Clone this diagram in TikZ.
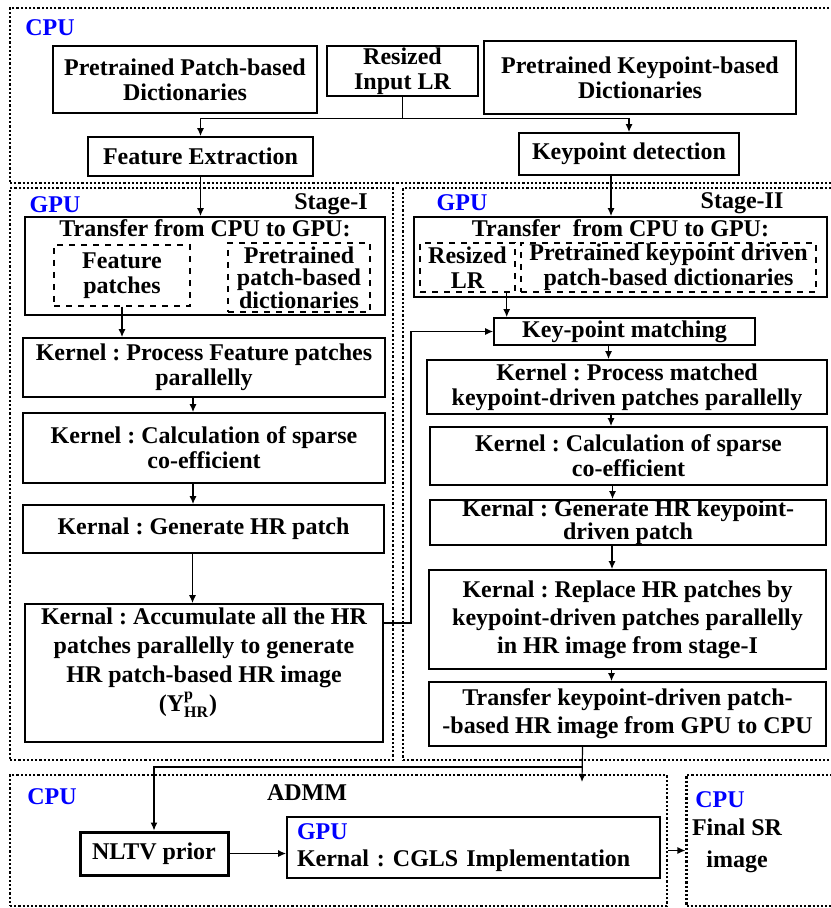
\documentclass[tikz,border=0pt]{standalone}
\usepackage{amsmath}
\usepackage{fontspec}
\setmainfont{Liberation Serif}
\usetikzlibrary{positioning, arrows.meta, calc}
\frenchspacing

\tikzset{
  blk/.style={draw, line width=0.9pt, align=center, inner sep=0pt},
  sub/.style={draw, dashed, line width=0.7pt, align=center, inner sep=0pt},
  region/.style={draw, densely dotted, line width=1.1pt},
  unit/.style={text=blue, inner sep=0pt},
  flow/.style={-{Latex[length=4pt, width=3.5pt]}, line width=0.6pt},
}

\begin{document}
\begin{tikzpicture}[x=0.5pt, y=-0.5pt, font=\fontsize{12}{12.5}\selectfont\bfseries]
  \useasboundingbox (0,0) rectangle (830,908);
% regions
  \node[region, minimum width=412pt, minimum height=87.5pt] (cpu) at (422,95.5) {};
  \node[region, minimum width=191.5pt, minimum height=286pt] (stI) at (201.5,474) {};
  \node[region, minimum width=216pt, minimum height=286pt] (stII) at (619,474) {};
  \node[region, minimum width=328.5pt, minimum height=65.5pt] (admm) at (338.5,840.5) {};
  \node[region, minimum width=74pt, minimum height=65.5pt] (final) at (760.5,840.5) {};
%
  \node[unit] (cpuA) at (50,28) {CPU};
  \node[unit] (gpuA) at (55,205) {GPU};
  \node[inner sep=0pt] (stAlab) at (331,204) {Stage-I};
  \node[unit] (gpuB) at (462,203) {GPU};
  \node[inner sep=0pt] (stBlab) at (742,203) {Stage-II};
  \node[unit] (cpuC) at (52,797) {CPU};
  \node[inner sep=0pt] (admmlab) at (307,793) {ADMM};
  \node[unit] (cpuD) at (720,800) {CPU};
  \node[inner sep=0pt, align=center, font=\fontsize{12}{16}\selectfont\bfseries] (srlab) at (737,846) {Final SR\\image};
% CPU: inputs
  \node[blk, minimum width=132pt, minimum height=33.5pt] (pdict) at (185,79.5) {Pretrained Patch-based\\Dictionaries};
  \node[blk, minimum width=75.5pt, minimum height=25pt] (resized) at (402.5,71) {Resized\\Input LR};
  \node[blk, minimum width=156pt, minimum height=36.5pt] (kdict) at (640,77.5) {Pretrained Keypoint-based\\Dictionaries};
  \node[blk, minimum width=112.5pt, minimum height=19.5pt] (fe) at (200.5,156.5) {Feature Extraction};
  \node[blk, minimum width=110pt, minimum height=21pt] (kd) at (629,154) {Keypoint detection};
% Stage-I
  \node[blk, minimum width=180pt, minimum height=49pt] (tI) at (205,266) {};
  \node[below=1.5pt of tI.north, inner sep=0pt] (tItitle) {Transfer from CPU to GPU:};
  \node[sub, minimum width=68pt, minimum height=30.5pt] (fp) at (122,275.5) {Feature\\patches};
  \node[sub, minimum width=71pt, minimum height=34.5pt, font=\fontsize{12}{11.2}\selectfont\bfseries] (ppd) at (299,277.5) {Pretrained\\patch-based\\dictionaries};
  \node[blk, minimum width=181pt, minimum height=29.5pt] (kI1) at (204,367.5) {Kernel : Process Feature patches\\parallelly};
  \node[blk, minimum width=181pt, minimum height=35pt] (kI2) at (204,448) {Kernel : Calculation of sparse\\co-efficient};
  \node[blk, minimum width=180.5pt, minimum height=24pt] (kI3) at (203.5,529) {Kernal : Generate HR patch};
  \node[blk, minimum width=179pt, minimum height=69pt] (kI4) at (204,673) {};
  \node[below=2pt of kI4.north, inner sep=0pt, align=center, font=\fontsize{12}{14.5}\selectfont\bfseries] (kI4txt)
    {Kernal : Accumulate all the HR\\patches parallelly to generate\\HR patch-based HR image\\\hspace*{-16pt}(Y$^{\text{p}}_{\text{HR}}$)};
% Stage-II
  \node[blk, minimum width=206.5pt, minimum height=40pt] (tII) at (620.5,257) {};
  \node[below=1.5pt of tII.north, inner sep=0pt] (tIItitle) {Transfer\ \ from CPU to GPU:};
  \node[sub, minimum width=47.5pt, minimum height=24.5pt] (rlr) at (467.5,267.5) {Resized\\LR};
  \node[sub, minimum width=147.5pt, minimum height=24.5pt] (pkd) at (668.5,267.5) {Pretrained keypoint driven\\patch-based dictionaries};
  \node[blk, minimum width=130.5pt, minimum height=13.5pt] (km) at (624.5,331.5) {Key-point matching};
  \node[blk, minimum width=200pt, minimum height=27pt] (kII1) at (627,387) {Kernel : Process matched\\keypoint-driven patches parallelly};
  \node[blk, minimum width=198.5pt, minimum height=29pt] (kII2) at (628.5,456) {Kernel : Calculation of sparse\\co-efficient};
  \node[blk, minimum width=198pt, minimum height=22.5pt, font=\fontsize{12}{11.5}\selectfont\bfseries] (kII3) at (628,522.5) {Kernal : Generate HR keypoint-\\driven patch};
  \node[blk, minimum width=198.5pt, minimum height=49.5pt, font=\fontsize{12}{14}\selectfont\bfseries] (kII4) at (627.5,619.5) {Kernal : Replace HR patches by\\keypoint-driven patches parallelly\\in HR image from stage-I};
  \node[blk, minimum width=198.5pt, minimum height=32pt, font=\fontsize{12}{14}\selectfont\bfseries] (kII5) at (627.5,714) {Transfer keypoint-driven patch-\\-based HR image from GPU to CPU};
% ADMM
  \node[blk, line width=1.5pt, minimum width=74pt, minimum height=21.5pt] (nltv) at (154,853.5) {NLTV prior};
  \node[blk, align=left, text width=176.5pt, inner xsep=5pt, minimum height=30.5pt, font=\fontsize{12}{13.5}\selectfont\bfseries] (cgls) at (473.5,847.5)
    {\textcolor{blue}{GPU}\\Kernal : CGLS Implementation};
  \coordinate (split) at (582,767);
  \coordinate (drop) at (582,782);
%
  \draw[flow] (resized.south) -- ++(0,22) coordinate (fork) -| (fe.north);
  \draw[flow] (fork) -| (kd.north);
  \draw[flow] (fe.south) -- (fe.south |- tI.north);
  \draw[flow] ([xshift=-9pt]kd.south) -- ([xshift=-9pt]kd.south |- tII.north);
  \draw[flow] (fp.south) -- (fp.south |- kI1.north);
  \foreach \a/\b in {kI1/kI2, kI2/kI3, kI3/kI4}
    \draw[flow] ([xshift=-5.5pt]\a.south) -- ([xshift=-5.5pt]\a.south |- \b.north);
  \draw[flow] ([xshift=-4.5pt]rlr.south east) -- ([xshift=-4.5pt]rlr.south east |- km.north);
  \foreach \a/\b in {km/kII1, kII1/kII2, kII2/kII3, kII3/kII4, kII4/kII5}
    \draw[flow] ([xshift=-8pt]\a.south) -- ([xshift=-8pt]\a.south |- \b.north);
  \draw[flow] ([yshift=25pt]kI4.east) -- ++(27,0) |- (km.west);
  \draw[flow] ([xshift=-22.5pt]kII5.south) -- (drop);
  \draw[flow] (split) -| (nltv.north);
  \draw[flow] (nltv.east) -- (nltv.east -| cgls.west);
  \draw[flow] ([yshift=-5pt]admm.east) -- ([yshift=-5pt]admm.east -| final.west);
\end{tikzpicture}
\end{document}
